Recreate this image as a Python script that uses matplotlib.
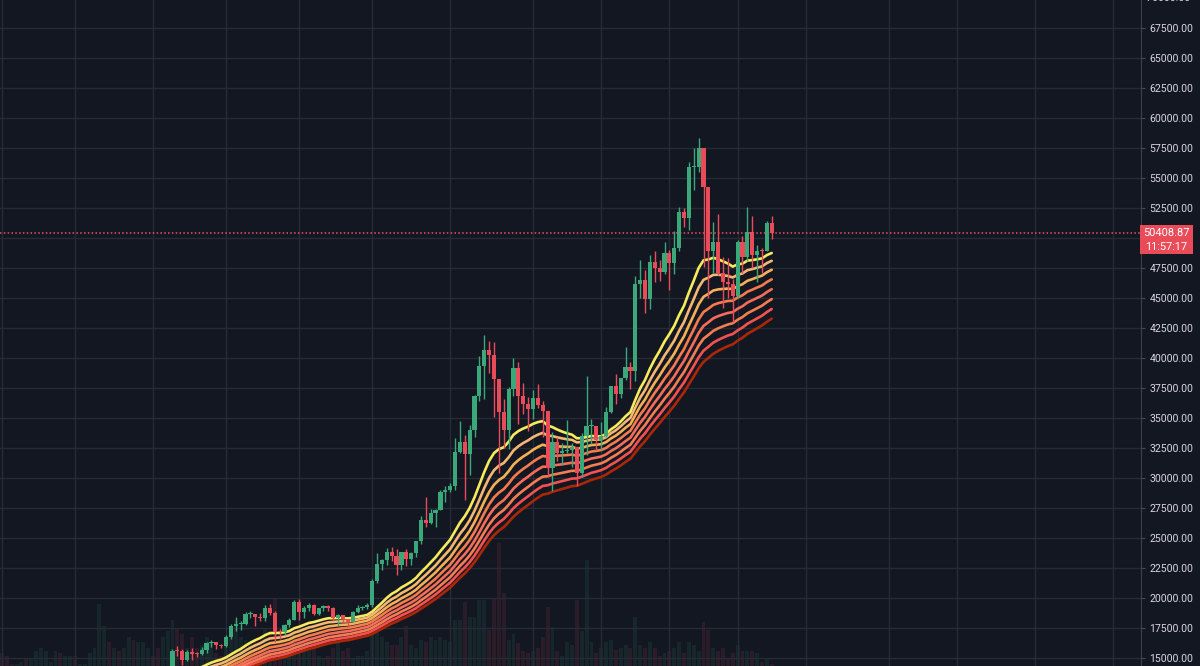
import numpy as np
import pandas as pd
import matplotlib
matplotlib.use("Agg")
import matplotlib.pyplot as plt
import matplotlib.dates as mdates
import matplotlib.transforms as mtransforms
from matplotlib.patches import Rectangle

# daily closes Sep 1 - Nov 4 2020 (below the visible range), only used to seed the EMAs
warmup_close = [
    11970, 11410, 10250, 10510, 10170, 10280, 10370, 10130, 10240, 10360,
    10400, 10440, 10330, 10680, 10790, 10950, 10940, 10930, 11080, 10920,
    10420, 10530, 10240, 10740, 10690, 10730, 10770, 10690, 10840, 10780,
    10620, 10570, 10550, 10670, 10790, 10600, 10670, 10920, 11060, 11300,
    11380, 11540, 11420, 11430, 11500, 11320, 11360, 11500, 11750, 11910,
    12820, 12990, 12930, 13110, 13030, 13070, 13650, 13280, 13460, 13560,
    13800, 13760, 13550, 14030, 14130,
]

# visible daily candles, Nov 5 2020 - Mar 8 2021
closes = [
    # Nov
    15590, 15580, 14830, 15480, 15330, 15300, 15700, 16280, 16320, 16070,
    15960, 16730, 17660, 17800, 17820, 18660, 18680, 18420, 18370, 19160,
    18720, 17150, 17140, 17720, 18180, 19700,
    # Dec
    18800, 19200, 19450, 18700, 19150, 19360, 19170, 18330, 18550, 18250,
    18040, 18800, 19170, 19270, 19440, 21380, 22800, 23130, 23870, 23480,
    22740, 23830, 23250, 23730, 24710, 26490, 26280, 27080, 27360, 28840, 29000,
    # Jan
    29370, 32190, 33000, 31990, 33990, 36820, 39370, 40670, 40240, 38240,
    35540, 34010, 37390, 39140, 36830, 36180, 35790, 36630, 36070, 35550,
    30830, 33010, 32080, 32260, 32370, 32560, 30430, 33470, 34320, 34320, 33130,
    # Feb
    33540, 35510, 37670, 36960, 38300, 39250, 38900, 46200, 46480, 44900,
    47970, 47500, 47170, 48720, 47950, 49200, 52150, 51680, 55890, 55920,
    57490, 54210, 48890, 49680, 47090, 46340, 46190, 45140,
    # Mar
    49630, 48380, 50540, 48560, 48930, 48910, 51210, 50408.87,
]
highs = [
    15750, 15960, 15760, 15650, 15840, 15460, 15950, 16340, 16480, 16330,
    16140, 16880, 17800, 18400, 18110, 18820, 18950, 18700, 18770, 19420,
    19480, 18900, 17450, 17860, 18340, 19820,
    19900, 19300, 19580, 19510, 19170, 19400, 19420, 19290, 18640, 18560,
    18280, 18950, 19410, 19350, 19570, 21560, 23780, 23280, 24170, 24290,
    24100, 23840, 24100, 23800, 24750, 26870, 28400, 27450, 27400, 28990, 29300,
    29600, 33300, 34780, 33600, 34440, 36900, 40180, 41950, 41380, 41350,
    38270, 36600, 37600, 39970, 39700, 37900, 36790, 37300, 37850, 36400,
    35550, 33800, 33440, 32900, 34800, 32900, 32560, 33750, 38500, 34900, 34350,
    34700, 35900, 37700, 38700, 38300, 40900, 39700, 46800, 48200, 47300,
    48600, 48900, 48200, 49700, 49000, 50600, 52600, 52500, 56300, 57500,
    58350, 57500, 54200, 51300, 52000, 48400, 48300, 46600,
    49800, 50200, 52600, 51800, 49400, 49200, 51400, 51800,
]
lows = [
    14100, 15200, 14400, 14720, 14800, 15070, 15280, 15440, 15950, 15780,
    15870, 15880, 16560, 17220, 17350, 17760, 18350, 17670, 18050, 18070,
    18600, 16350, 16560, 16880, 17550, 18180,
    18200, 18330, 18940, 18580, 18600, 18920, 18910, 18200, 17650, 17930,
    17570, 18020, 18730, 19000, 19050, 19280, 21230, 22350, 22780, 23080,
    21900, 22350, 22700, 22780, 23450, 24520, 25880, 26200, 25880, 27320, 27960,
    28800, 29000, 32050, 28130, 30220, 33400, 36400, 36570, 38720, 35110,
    30420, 32530, 32380, 36870, 34540, 35360, 33900, 34900, 35800, 33400,
    30070, 28950, 31400, 31100, 32100, 30900, 29300, 30050, 31950, 32850, 32300,
    32300, 33450, 35400, 36200, 36650, 38200, 37400, 38100, 45000, 43750,
    44100, 46300, 46400, 47000, 45700, 47000, 48900, 50900, 50700, 54000,
    55500, 47600, 45000, 47100, 46950, 44200, 45000, 43000,
    45000, 47100, 48100, 47500, 46300, 47100, 48900, 49900,
]

# daily volume Oct 1 2020 - Mar 8 2021 (rough, arbitrary units)
volume = [
    50, 45, 30, 30, 35, 40, 40, 55, 60, 55, 35, 55, 50, 45, 45, 45, 30, 30, 50, 60,
    140, 100, 70, 60, 55, 60, 80, 75, 70, 70, 60,
    45, 60, 80, 90, 110, 95, 85, 60, 80, 60, 65, 80, 70, 50, 45, 75, 95, 110, 80, 75,
    70, 70, 70, 95, 90, 150, 90, 65, 55, 85,
    100, 70, 60, 65, 45, 40, 45, 60, 70, 55, 60, 40, 45, 45, 55, 87, 111, 80, 70, 65,
    65, 80, 100, 65, 60, 75, 71, 80, 75, 80, 75,
    70, 111, 110, 144, 116, 116, 147, 147, 93, 150, 250, 160, 75, 85, 69, 55, 50, 55, 60, 80,
    134, 98, 55, 45, 70, 65, 147, 90, 220, 70, 50,
    60, 70, 75, 56, 60, 65, 60, 116, 65, 60, 70, 60, 45, 50, 55, 60, 70, 50, 70, 65,
    55, 107, 93, 60, 55, 60, 40, 50,
    65, 55, 55, 55, 50, 35, 40, 30,
]

ema_lengths = [20, 25, 30, 35, 40, 45, 50, 55]
ema_colors = ['#f5eb5d', '#f5b771', '#f5b056', '#f57b4e',
              '#f56d58', '#f57d51', '#f55151', '#aa2707']
last_price = 50408.87
countdown = '11:57:17'
price_ticks = np.arange(15000, 67501, 2500)
grid_dates = ['2020-10-01', '2020-10-16', '2020-11-01', '2020-11-16', '2020-12-01',
              '2020-12-16', '2021-01-01', '2021-01-18', '2021-02-01', '2021-02-15',
              '2021-03-01', '2021-03-15', '2021-04-01', '2021-04-15', '2021-05-01',
              '2021-05-17']

bg = '#131722'
up_col = '#3aa878'
down_col = '#ea4b59'
plt.rcParams['font.family'] = ['Roboto', 'DejaVu Sans']

# dates / derived series
all_close = pd.Series(warmup_close + closes,
                      index=pd.date_range('2020-09-01', periods=len(warmup_close) + len(closes)))
days = pd.date_range('2020-11-05', periods=len(closes))
x = mdates.date2num(days)
opens = [warmup_close[-1]] + closes[:-1]
vol_days = pd.date_range('2020-10-01', periods=len(volume))
vol_prev = all_close.shift(1).reindex(vol_days).values
vol_cls = all_close.reindex(vol_days).values

fig = plt.figure(figsize=(12, 6.66), dpi=100, facecolor=bg)
ax_v = fig.add_axes([0, 0, 1141 / 1200, 1])
ax = fig.add_axes([0, 0, 1141 / 1200, 1], sharex=ax_v)
ax_v.set_facecolor(bg)
ax.patch.set_visible(False)

# faint volume bars in the background (baseline sits just under the crop)
vcols = [up_col if c >= p else down_col for c, p in zip(vol_cls, vol_prev)]
ax_v.bar(mdates.date2num(vol_days), volume, width=0.8, color=vcols, alpha=0.11, linewidth=0)
ax_v.set_ylim(27, 27 + 1211)
ax_v.axis('off')

# grid
ax.set_xticks(mdates.date2num(pd.to_datetime(grid_dates)))
ax.set_yticks(price_ticks)
ax.grid(True, color='#272b36', linewidth=1.0, zorder=0)

# EMA ribbon
ema_x = mdates.date2num(all_close.index)
for n, col in zip(ema_lengths, ema_colors):
    ema = all_close.ewm(span=n, adjust=False).mean()
    ax.plot(ema_x, ema.values, color=col, linewidth=1.9, zorder=3, solid_capstyle='round')

# candles
o = np.array(opens, dtype=float)
c = np.array(closes, dtype=float)
colors = np.where(c >= o, up_col, down_col)
ax.vlines(x, lows, highs, colors=colors, linewidth=1.0, zorder=4)
body = np.maximum(np.abs(c - o), 80)
ax.bar(x, body, bottom=np.minimum(o, c), width=0.86, color=colors, linewidth=0, zorder=5)

# last price line
ax.axhline(last_price, color='#f0505e', linewidth=1.1, linestyle=(0, (1, 1.5)), zorder=2)

ax.set_xlim(mdates.date2num(pd.Timestamp('2020-10-01')) - 0.4,
            mdates.date2num(pd.Timestamp('2021-03-08')) + 75.8)
ax.set_ylim(14333, 69833)

# right price scale
ax.yaxis.tick_right()
ax.set_yticklabels(['' if v == 50000 else f'{v:.2f}' for v in price_ticks])
ax.tick_params(axis='y', colors='#454955', labelcolor='#d5d8df', length=3,
               width=0.8, labelsize=7.6, pad=3)
ax.tick_params(axis='x', length=0, labelbottom=False)
for s in ['left', 'top', 'bottom']:
    ax.spines[s].set_visible(False)
ax.spines['right'].set_color('#3d414c')
ax.text(1.0, 70000, '  70000.00', transform=mtransforms.blended_transform_factory(ax.transAxes, ax.transData),
        color='#d5d8df', fontsize=7.6, va='center', ha='left', clip_on=False)

# last price label box
blend = mtransforms.blended_transform_factory(fig.transFigure, ax.transData)
fig.patches.append(Rectangle((1140 / 1200, last_price - 1750), 53 / 1200, 2417,
                             transform=blend, facecolor=down_col, edgecolor='none'))
fig.text(1166.5 / 1200, 0, f'{last_price:.2f}', transform=blend, color='white',
         fontsize=7.9, ha='center', va='center').set_y(last_price)
fig.text(1166.5 / 1200, 0, countdown, transform=blend, color='white',
         fontsize=7.9, ha='center', va='center').set_y(last_price - 1170)

fig.savefig('out.png', dpi=100, facecolor=bg)
